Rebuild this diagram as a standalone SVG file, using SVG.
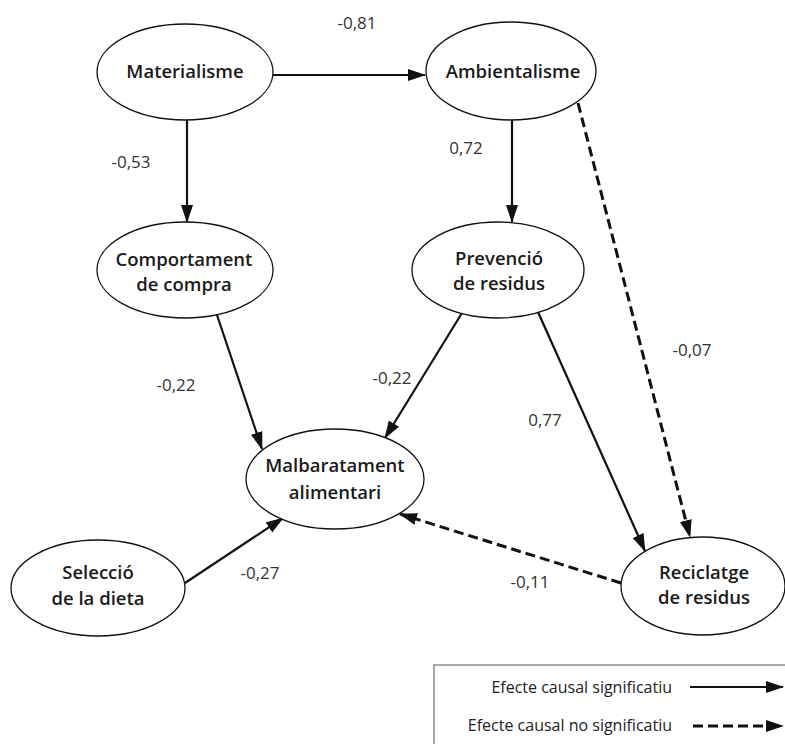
<svg xmlns="http://www.w3.org/2000/svg" width="785" height="744" viewBox="0 0 785 744">
<style>
.node ellipse{fill:#fff;stroke:#111;stroke-width:1.3}
.node text{font-family:"Open Sans","Liberation Sans",sans-serif;font-size:18.5px;font-weight:600;fill:#1a1a1a;text-anchor:middle}
.lbl{font-family:"Open Sans","Liberation Sans",sans-serif;font-size:17px;fill:#333;text-anchor:middle}
.sig{stroke:#111;stroke-width:2.2;fill:none;marker-end:url(#ah)}
.ns{stroke:#111;stroke-width:3;fill:none;stroke-dasharray:10 5;marker-end:url(#ah)}
.leg{font-family:"Open Sans","Liberation Sans",sans-serif;font-size:16px;fill:#222;text-anchor:end}
</style>
<defs>
<marker id="ah" markerUnits="userSpaceOnUse" markerWidth="18" markerHeight="14" viewBox="0 0 18 14" refX="17" refY="7" orient="auto">
<path d="M0,1 L18,7 L0,13 Z" fill="#111"/>
</marker>
</defs>
<rect width="785" height="744" fill="#fff"/>
<g id="connectors">
<line class="sig" x1="273" y1="75" x2="425" y2="75"/>
<line class="sig" x1="187" y1="120" x2="187" y2="222"/>
<line class="sig" x1="512" y1="120" x2="512" y2="222"/>
<line class="ns" x1="578" y1="103" x2="690" y2="537"/>
<line class="sig" x1="217" y1="315" x2="262" y2="449"/>
<line class="sig" x1="462" y1="313" x2="385" y2="438"/>
<line class="sig" x1="538" y1="312" x2="645" y2="551"/>
<line class="sig" x1="185" y1="583" x2="283" y2="518"/>
<line class="ns" x1="621" y1="583" x2="400" y2="514"/>
</g>
<g id="labels">
<text class="lbl" x="357" y="29">-0,81</text>
<text class="lbl" x="131" y="168">-0,53</text>
<text class="lbl" x="466" y="154">0,72</text>
<text class="lbl" x="692" y="356">-0,07</text>
<text class="lbl" x="176" y="391">-0,22</text>
<text class="lbl" x="392" y="384">-0,22</text>
<text class="lbl" x="545" y="426">0,77</text>
<text class="lbl" x="260" y="579">-0,27</text>
<text class="lbl" x="530" y="588">-0,11</text>
</g>
<g id="materialisme" class="node"><ellipse cx="185" cy="72" rx="88" ry="48"/><text x="185" y="78">Materialisme</text></g>
<g id="ambientalisme" class="node"><ellipse cx="511" cy="71" rx="85" ry="49"/><text x="513" y="78">Ambientalisme</text></g>
<g id="comportament" class="node"><ellipse cx="185" cy="270" rx="88" ry="48"/><text x="184" y="266">Comportament</text><text x="184" y="291">de compra</text></g>
<g id="prevencio" class="node"><ellipse cx="498" cy="270" rx="86" ry="48"/><text x="499" y="265">Prevenció</text><text x="499" y="290">de residus</text></g>
<g id="malbaratament" class="node"><ellipse cx="335" cy="479" rx="89" ry="50"/><text x="335" y="472">Malbaratament</text><text x="335" y="499">alimentari</text></g>
<g id="seleccio" class="node"><ellipse cx="98" cy="588" rx="87" ry="48"/><text x="98" y="579">Selecció</text><text x="98" y="605">de la dieta</text></g>
<g id="reciclatge" class="node"><ellipse cx="703" cy="586" rx="82" ry="49"/><text x="704" y="579">Reciclatge</text><text x="704" y="604">de residus</text></g>
<g id="legend">
<rect x="434" y="665" width="360" height="90" fill="#fff" stroke="#555" stroke-width="1"/>
<text class="leg" x="672" y="693">Efecte causal significatiu</text>
<line class="sig" x1="690" y1="687" x2="783" y2="687"/>
<text class="leg" x="672" y="731">Efecte causal no significatiu</text>
<line class="ns" x1="693" y1="726" x2="783" y2="726"/>
</g>
</svg>
